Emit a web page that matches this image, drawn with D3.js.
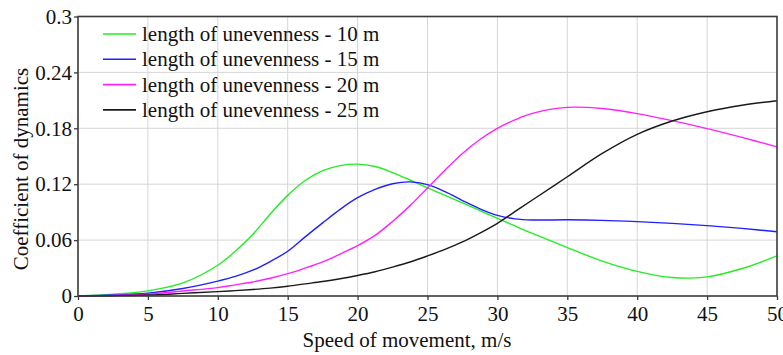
<!DOCTYPE html>
<html>
<head>
<meta charset="utf-8">
<script src="https://cdn.jsdelivr.net/npm/d3@7"></script>
<style>
  html, body { margin: 0; padding: 0; background: #fff; }
  svg { display: block; }
  svg text { font-family: "Liberation Serif", "DejaVu Serif", "Times New Roman", Times, serif !important; fill: #111; }
</style>
</head>
<body>
<svg id="chart" width="783" height="355"></svg>
<script>
// ---- data ----
const speeds = [0, 2.5, 5, 7.5, 10, 11.25, 12.5, 13.75, 15, 16.25, 17.5, 18.75, 20, 21.25, 22.5, 23.75, 25, 26.25, 27.5, 28.75, 30, 31.25, 32.5, 35, 37.5, 40, 42.5, 45, 47.5, 50];
const len10 = [0, 0.002, 0.0055, 0.014, 0.033, 0.048, 0.066, 0.088, 0.108, 0.124, 0.1345, 0.140, 0.1415, 0.139, 0.1325, 0.1245, 0.116, 0.108, 0.100, 0.0917, 0.0834, 0.0752, 0.0672, 0.052, 0.0375, 0.0265, 0.0198, 0.0205, 0.0295, 0.043];
const len15 = [0, 0.001, 0.003, 0.008, 0.016, 0.021, 0.0277, 0.037, 0.048, 0.0635, 0.0785, 0.093, 0.1055, 0.1145, 0.1205, 0.1225, 0.1195, 0.112, 0.1025, 0.0935, 0.0865, 0.0828, 0.0816, 0.0818, 0.0812, 0.0798, 0.078, 0.0755, 0.0726, 0.069];
const len20 = [0, 0.0005, 0.002, 0.0054, 0.009, 0.012, 0.015, 0.019, 0.024, 0.030, 0.0367, 0.045, 0.054, 0.065, 0.080, 0.097, 0.116, 0.135, 0.153, 0.168, 0.180, 0.189, 0.196, 0.2025, 0.2012, 0.1958, 0.1882, 0.1797, 0.1702, 0.160];
const len25 = [0, 0.0003, 0.001, 0.0028, 0.0047, 0.0058, 0.007, 0.0085, 0.0105, 0.013, 0.0155, 0.0185, 0.022, 0.026, 0.031, 0.0365, 0.043, 0.050, 0.058, 0.0675, 0.078, 0.0905, 0.103, 0.128, 0.153, 0.1735, 0.1878, 0.1978, 0.2048, 0.2095];
const seriesNames = ["length of unevenness - 10 m", "length of unevenness - 15 m", "length of unevenness - 20 m", "length of unevenness - 25 m"];
const seriesColors = ["#22ee22", "#2020ff", "#ff22ff", "#1a1a1a"];
const xTicks = [0, 5, 10, 15, 20, 25, 30, 35, 40, 45, 50];
const yTicks = [0, 0.06, 0.12, 0.18, 0.24, 0.3];
const yTickLabels = ["0", "0.06", "0.12", "0.18", "0.24", "0.3"];
const xTitle = "Speed of movement, m/s";
const yTitle = "Coefficient of dynamics";

const seriesValues = [len10, len15, len20, len25];
const FONT = '"Liberation Serif", "DejaVu Serif", serif';

// ---- layout ----
const svg = d3.select("#chart");
const L = 78, R = 777, T = 16.5, B = 296;
const x = d3.scaleLinear().domain([0, 50]).range([L, R]);
const y = d3.scaleLinear().domain([0, 0.3]).range([B, T]);

// grid
const grid = svg.append("g");
grid.selectAll("line.vx").data(xTicks.slice(1, -1)).enter().append("line")
  .attr("x1", d => x(d)).attr("x2", d => x(d)).attr("y1", T).attr("y2", B)
  .attr("stroke", "#d6d6d6").attr("stroke-width", 1);
grid.selectAll("line.hy").data(yTicks.slice(1, -1)).enter().append("line")
  .attr("x1", L).attr("x2", R).attr("y1", d => y(d)).attr("y2", d => y(d))
  .attr("stroke", "#d6d6d6").attr("stroke-width", 1);

// curves
const line = d3.line().x(d => x(d[0])).y(d => Math.min(y(d[1]), B)).curve(d3.curveCatmullRom.alpha(0.5));
seriesValues.forEach((vals, i) => {
  svg.append("path")
    .datum(speeds.map((s, j) => [s, vals[j]]))
    .attr("d", line)
    .attr("fill", "none")
    .attr("stroke", seriesColors[i])
    .attr("stroke-width", 1.4);
});

// frame
svg.append("rect").attr("x", L).attr("y", T).attr("width", R - L).attr("height", B - T)
  .attr("fill", "none").attr("stroke", "#3a3a3a").attr("stroke-width", 1.6);

// axes
const xAxis = d3.axisBottom(x).tickValues(xTicks).tickFormat(d3.format("d")).tickSize(4).tickPadding(6);
const gx = svg.append("g").attr("transform", `translate(0,${B})`).call(xAxis)
  .attr("font-family", FONT).attr("font-size", 21);
gx.select(".domain").remove();
gx.selectAll(".tick line").attr("stroke", "#3a3a3a").attr("stroke-width", 1.3);
gx.selectAll(".tick text").attr("fill", "#111");

const yAxis = d3.axisLeft(y).tickValues(yTicks).tickFormat((d, i) => yTickLabels[i]).tickSize(4).tickPadding(2);
const gy = svg.append("g").attr("transform", `translate(${L},0)`).call(yAxis)
  .attr("font-family", FONT).attr("font-size", 21);
gy.select(".domain").remove();
gy.selectAll(".tick line").attr("stroke", "#3a3a3a").attr("stroke-width", 1.3);
gy.selectAll(".tick text").attr("fill", "#111");

// titles
svg.append("text").attr("x", 407).attr("y", 347).attr("text-anchor", "middle")
  .attr("font-size", 21).text(xTitle);
svg.append("text").attr("transform", "translate(28,169) rotate(-90)").attr("text-anchor", "middle")
  .attr("font-size", 21).text(yTitle);

// legend
const lg = svg.append("g");
seriesNames.forEach((name, i) => {
  const ly = 34 + i * 25.3;
  lg.append("line").attr("x1", 103).attr("x2", 136).attr("y1", ly).attr("y2", ly)
    .attr("stroke", seriesColors[i]).attr("stroke-width", 1.6);
  lg.append("text").attr("x", 142).attr("y", ly).attr("dy", "0.33em")
    .attr("font-size", 21).text(name);
});
</script>
</body>
</html>
